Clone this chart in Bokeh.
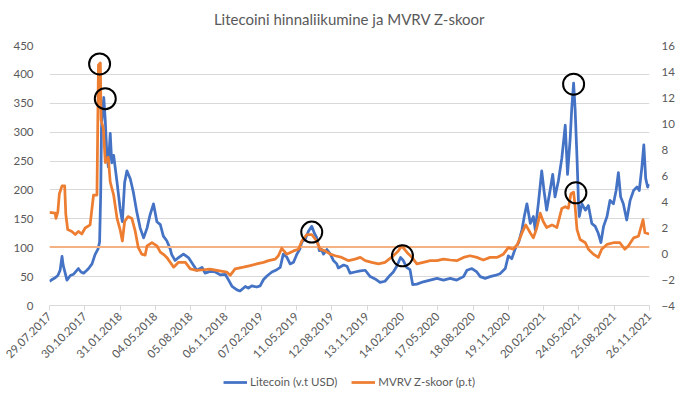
import pandas as pd
from math import pi
from bokeh.plotting import figure
from bokeh.layouts import column
from bokeh.models import (Range1d, LinearAxis, FixedTicker, DatetimeTickFormatter,
                          Legend, LegendItem, SingleIntervalTicker, Label)
from bokeh.embed import file_html
from bokeh.resources import INLINE

TITLE = "Litecoini hinnaliikumine ja MVRV Z-skoor"
LTC_LABEL = "Litecoin (v.t USD)"
Z_LABEL = "MVRV Z-skoor (p.t)"

ltc_dates = [
    "2017-07-29", "2017-08-05", "2017-08-13", "2017-08-20", "2017-08-26", "2017-08-31", "2017-09-03",
    "2017-09-06", "2017-09-13", "2017-09-22", "2017-09-30", "2017-10-13", "2017-10-20", "2017-10-27",
    "2017-11-03", "2017-11-09", "2017-11-18", "2017-11-26", "2017-12-04", "2017-12-08", "2017-12-11",
    "2017-12-13", "2017-12-19", "2017-12-23", "2017-12-27", "2017-12-31", "2018-01-05", "2018-01-09",
    "2018-01-14", "2018-01-23", "2018-01-31", "2018-02-06", "2018-02-12", "2018-02-18", "2018-02-27",
    "2018-03-07", "2018-03-16", "2018-03-25", "2018-04-03", "2018-04-12", "2018-04-20", "2018-04-29",
    "2018-05-08", "2018-05-17", "2018-05-25", "2018-06-03", "2018-06-12", "2018-06-16", "2018-06-25",
    "2018-07-04", "2018-07-17", "2018-07-30", "2018-08-12", "2018-08-21", "2018-09-04", "2018-09-12",
    "2018-09-25", "2018-10-09", "2018-10-22", "2018-11-04", "2018-11-13", "2018-11-22", "2018-12-05",
    "2018-12-13", "2018-12-27", "2019-01-04", "2019-01-13", "2019-01-26", "2019-02-04", "2019-02-13",
    "2019-02-22", "2019-03-07", "2019-03-20", "2019-03-29", "2019-04-06", "2019-04-15", "2019-04-24",
    "2019-05-03", "2019-05-12", "2019-05-20", "2019-05-25", "2019-06-03", "2019-06-11", "2019-06-20",
    "2019-06-27", "2019-07-03", "2019-07-10", "2019-07-15", "2019-07-21", "2019-07-30", "2019-08-08",
    "2019-08-16", "2019-08-25", "2019-08-29", "2019-09-12", "2019-09-21", "2019-09-29", "2019-10-12",
    "2019-10-26", "2019-11-08", "2019-11-21", "2019-12-04", "2019-12-17", "2019-12-30", "2020-01-12",
    "2020-01-21", "2020-01-30", "2020-02-09", "2020-02-16", "2020-02-25", "2020-03-05", "2020-03-12",
    "2020-03-23", "2020-04-09", "2020-04-27", "2020-05-15", "2020-06-01", "2020-06-19", "2020-07-06",
    "2020-07-24", "2020-08-02", "2020-08-15", "2020-08-28", "2020-09-06", "2020-09-19", "2020-10-02",
    "2020-10-15", "2020-10-28", "2020-11-11", "2020-11-19", "2020-11-28", "2020-12-07", "2020-12-16",
    "2020-12-25", "2020-12-31", "2021-01-07", "2021-01-16", "2021-01-24", "2021-01-29", "2021-02-06",
    "2021-02-15", "2021-02-21", "2021-02-28", "2021-03-09", "2021-03-16", "2021-03-22", "2021-03-31",
    "2021-04-09", "2021-04-18", "2021-04-24", "2021-05-01", "2021-05-05", "2021-05-10", "2021-05-14",
    "2021-05-19", "2021-05-23", "2021-05-25", "2021-06-01", "2021-06-10", "2021-06-18", "2021-06-27",
    "2021-07-06", "2021-07-14", "2021-07-21", "2021-07-28", "2021-08-06", "2021-08-14", "2021-08-23",
    "2021-08-30", "2021-09-05", "2021-09-11", "2021-09-18", "2021-09-27", "2021-10-06", "2021-10-15",
    "2021-10-24", "2021-10-30", "2021-11-06", "2021-11-11", "2021-11-16", "2021-11-21", "2021-11-25",
]
ltc_usd = [
    42, 45, 48, 52, 61, 85, 70,
    62, 44, 52, 54, 64, 58, 56,
    60, 64, 72, 88, 98, 110, 196,
    310, 360, 320, 264, 240, 298, 247,
    260, 213, 168, 145, 213, 233, 219,
    196, 162, 134, 117, 134, 157, 176,
    145, 140, 120, 112, 98, 88, 78,
    83, 89, 83, 70, 61, 66, 56,
    59, 58, 53, 54, 44, 33, 27,
    25, 33, 30, 34, 32, 34, 45,
    51, 58, 62, 66, 89, 84, 72,
    75, 89, 98, 110, 115, 128, 137,
    125, 118, 95, 98, 89, 97, 89,
    78, 72, 65, 70, 68, 56, 58,
    60, 61, 50, 46, 40, 42, 52,
    58, 68, 83, 78, 66, 62, 36,
    37, 41, 44, 47, 44, 47, 44,
    50, 61, 64, 58, 50, 47, 50,
    52, 55, 64, 86, 81, 98, 109,
    131, 154, 176, 142, 154, 131, 176,
    233, 199, 165, 199, 227, 188, 216,
    255, 312, 227, 289, 340, 385, 340,
    255, 176, 154, 176, 165, 173, 142,
    137, 125, 109, 137, 154, 182, 176,
    199, 230, 188, 176, 148, 182, 199,
    205, 199, 240, 278, 220, 205, 210,
]

z_dates = [
    "2017-07-29", "2017-08-13", "2017-08-15", "2017-08-20", "2017-08-24", "2017-08-31", "2017-09-07",
    "2017-09-10", "2017-09-15", "2017-09-26", "2017-10-05", "2017-10-13", "2017-10-22", "2017-10-31",
    "2017-11-13", "2017-11-22", "2017-12-01", "2017-12-05", "2017-12-10", "2017-12-12", "2017-12-18",
    "2017-12-23", "2017-12-31", "2018-01-05", "2018-01-14", "2018-01-23", "2018-01-31", "2018-02-06",
    "2018-02-12", "2018-02-21", "2018-03-03", "2018-03-12", "2018-03-20", "2018-03-29", "2018-04-07",
    "2018-04-12", "2018-04-25", "2018-05-08", "2018-05-17", "2018-05-28", "2018-06-03", "2018-06-12",
    "2018-06-21", "2018-07-04", "2018-07-22", "2018-08-04", "2018-08-21", "2018-09-08", "2018-09-25",
    "2018-10-13", "2018-11-08", "2018-11-17", "2018-11-30", "2018-12-22", "2019-01-09", "2019-01-26",
    "2019-02-13", "2019-02-26", "2019-03-16", "2019-03-24", "2019-04-02", "2019-04-15", "2019-05-03",
    "2019-05-16", "2019-05-25", "2019-06-07", "2019-06-20", "2019-07-03", "2019-07-12", "2019-07-25",
    "2019-08-08", "2019-08-21", "2019-09-07", "2019-09-25", "2019-10-12", "2019-10-26", "2019-11-08",
    "2019-11-25", "2019-12-13", "2019-12-30", "2020-01-21", "2020-02-03", "2020-02-12", "2020-02-26",
    "2020-03-10", "2020-03-23", "2020-04-09", "2020-04-27", "2020-05-15", "2020-06-01", "2020-06-19",
    "2020-07-06", "2020-07-24", "2020-08-10", "2020-08-28", "2020-09-14", "2020-10-02", "2020-10-20",
    "2020-11-06", "2020-11-19", "2020-12-02", "2020-12-13", "2020-12-25", "2021-01-04", "2021-01-16",
    "2021-01-24", "2021-02-02", "2021-02-11", "2021-02-19", "2021-02-28", "2021-03-14", "2021-03-27",
    "2021-04-09", "2021-04-18", "2021-04-26", "2021-05-03", "2021-05-10", "2021-05-14", "2021-05-19",
    "2021-05-27", "2021-06-10", "2021-06-18", "2021-07-01", "2021-07-14", "2021-07-23", "2021-08-06",
    "2021-08-23", "2021-09-09", "2021-09-22", "2021-10-01", "2021-10-15", "2021-10-28", "2021-11-09",
    "2021-11-14", "2021-11-25",
]
z_score = [
    3.17, 3.1, 2.7, 3.2, 4.6, 5.2, 5.2,
    3.0, 1.84, 1.7, 1.46, 1.7, 1.5, 1.96,
    2.2, 4.5, 4.5, 14.5, 14.65, 10.25, 9.6,
    7.0, 7.4, 5.5, 4.5, 2.7, 1.84, 0.96,
    2.46, 2.84, 2.7, 1.7, 0.45, -0.05, -0.13,
    0.58, 0.83, 0.58, 0.1, -0.13, -0.3, -0.68,
    -1.05, -0.68, -0.68, -1.18, -1.3, -1.25, -1.2,
    -1.3, -1.43, -1.68, -1.18, -1.05, -0.93, -0.8,
    -0.68, -0.55, -0.43, -0.17, 0.4, -0.05, 0.2,
    0.33, 0.96, 1.46, 1.46, 0.96, 0.33, 0.2,
    -0.05, -0.17, -0.3, -0.55, -0.43, -0.3, -0.55,
    -0.68, -0.8, -0.68, -0.17, 0.2, 0.58, 0.08,
    -0.3, -0.8, -0.68, -0.55, -0.55, -0.43, -0.5,
    -0.55, -0.3, -0.17, -0.3, -0.5, -0.3, -0.3,
    -0.05, 0.45, 0.33, 0.7, 1.58, 2.2, 1.58,
    1.2, 1.96, 3.1, 2.46, 2.0, 2.2, 2.0,
    3.47, 3.6, 3.47, 4.6, 4.72, 3.6, 1.84,
    1.08, 0.83, 0.33, -0.05, -0.3, 0.33, 0.7,
    0.83, 0.83, 0.33, 0.58, 1.2, 1.33, 2.6,
    1.6, 1.5,
]

z_reference_level = 0.5

highlight_dates = ["2017-12-08", "2017-12-23", "2019-06-20", "2020-02-14", "2021-05-10", "2021-05-16"]
highlight_usd = [418, 358, 127, 86, 383, 195]

tick_dates = [
    "2017-07-29", "2017-10-30", "2018-01-31", "2018-05-04", "2018-08-05", "2018-11-06",
    "2019-02-07", "2019-05-11", "2019-08-12", "2019-11-13", "2020-02-14", "2020-05-17",
    "2020-08-18", "2020-11-19", "2021-02-20", "2021-05-24", "2021-08-25", "2021-11-26",
]

FONT = "Lato"
TEXT_COLOR = "#595959"
GRID_COLOR = "#D9D9D9"
BLUE = "#4472C4"
ORANGE = "#ED7D31"
LIGHT_ORANGE = "#F4B183"

x_ltc = pd.to_datetime(ltc_dates)
x_z = pd.to_datetime(z_dates)
x_hl = pd.to_datetime(highlight_dates)
x_ticks = pd.to_datetime(tick_dates)
tick_ms = [t.value / 1e6 for t in x_ticks]


def strip(height):
    s = figure(width=680, height=height, output_backend="svg", toolbar_location=None,
               x_range=Range1d(start=0, end=1), y_range=Range1d(start=0, end=1),
               x_axis_location=None, y_axis_location=None, min_border=0)
    s.outline_line_color = None
    s.grid.visible = False
    return s


# title strip above the chart
pt = strip(36)
pt.add_layout(Label(x=0.5, y=0.5, text=TITLE, text_align="center", text_baseline="middle",
                    text_font=FONT, text_font_size="15px", text_color=TEXT_COLOR))

p = figure(width=680, height=328, output_backend="svg", toolbar_location=None,
           x_axis_type="datetime",
           x_range=Range1d(start=tick_ms[0], end=tick_ms[-1]),
           y_range=Range1d(start=0, end=450),
           min_border_left=49, min_border_right=31, min_border_top=9, min_border_bottom=53)
p.extra_y_ranges = {"z": Range1d(start=-4, end=16)}

p.outline_line_color = None
p.xgrid.visible = False
p.ygrid.grid_line_color = GRID_COLOR
p.ygrid.grid_line_width = 1

# x axis
xa = p.xaxis[0]
xa.ticker = FixedTicker(ticks=tick_ms)
fmt = "%d.%m.%Y"
xa.formatter = DatetimeTickFormatter(milliseconds=fmt, seconds=fmt, minsec=fmt, minutes=fmt,
                                     hourmin=fmt, hours=fmt, days=fmt, months=fmt, years=fmt)
xa.major_label_orientation = pi / 4
xa.axis_line_color = GRID_COLOR
xa.major_tick_line_color = GRID_COLOR
xa.major_tick_out = 5
xa.major_tick_in = 0
xa.minor_tick_line_color = None
xa.major_label_text_font = FONT
xa.major_label_text_font_size = "11.5px"
xa.major_label_text_color = TEXT_COLOR
xa.major_label_standoff = 4

# left axis
ya = p.yaxis[0]
ya.ticker = SingleIntervalTicker(interval=50)
ya.axis_line_color = None
ya.major_tick_line_color = None
ya.minor_tick_line_color = None
ya.major_label_text_font = FONT
ya.major_label_text_font_size = "11.5px"
ya.major_label_text_color = TEXT_COLOR
ya.major_label_standoff = 10

# right axis
ra = LinearAxis(y_range_name="z", ticker=SingleIntervalTicker(interval=2))
ra.axis_line_color = None
ra.major_tick_line_color = None
ra.minor_tick_line_color = None
ra.major_label_text_font = FONT
ra.major_label_text_font_size = "11.5px"
ra.major_label_text_color = TEXT_COLOR
ra.major_label_standoff = 6
p.add_layout(ra, "right")

p.line(x_ltc, ltc_usd, line_color=BLUE, line_width=2.75, line_join="round")
p.line([x_ticks[0], x_ticks[-1]], [z_reference_level, z_reference_level], y_range_name="z",
       line_color=LIGHT_ORANGE, line_width=2)
p.line(x_z, z_score, y_range_name="z", line_color=ORANGE, line_width=2.75, line_join="round")

p.scatter(x_hl, highlight_usd, size=21, fill_color=None, line_color="black", line_width=2)

# legend strip below the chart (its lines use the USD series, which lie
# entirely outside this strip's 0..1 ranges, so only the legend shows)
pl = strip(35)
lr_ltc = pl.line(x=ltc_usd, y=ltc_usd, line_color=BLUE, line_width=2.75)
lr_z = pl.line(x=ltc_usd, y=ltc_usd, line_color=ORANGE, line_width=2.75)
legend = Legend(items=[LegendItem(label=LTC_LABEL, renderers=[lr_ltc]),
                       LegendItem(label=Z_LABEL, renderers=[lr_z])],
                orientation="horizontal", location="center")
legend.label_text_font = FONT
legend.label_text_font_size = "11.5px"
legend.label_text_color = TEXT_COLOR
legend.background_fill_alpha = 0
legend.border_line_color = None
legend.glyph_width = 24
legend.label_standoff = 3
legend.spacing = 14
legend.padding = 2
legend.margin = 0
pl.add_layout(legend, "center")

layout = column(pt, p, pl, spacing=0)
open("out.html", "w").write(file_html(layout, INLINE))
